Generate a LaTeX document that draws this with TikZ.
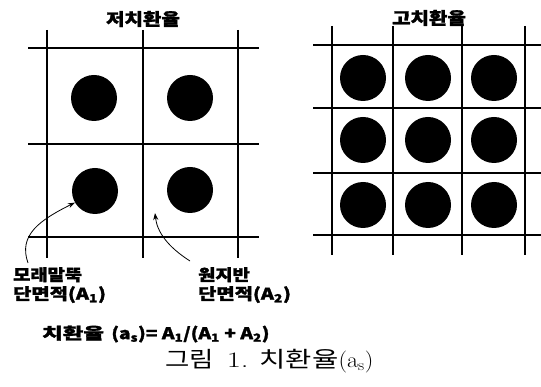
\documentclass[tikz,border=0pt]{standalone}
\usepackage{fontspec}
\usepackage{graphicx}
\usepackage{tikz}
\usetikzlibrary{arrows.meta,positioning}
\newfontfamily\kr{Noto Sans CJK KR}[BoldFeatures={FakeBold=1.5}]
\newcommand{\hwide}[2][1.2]{\scalebox{#1}[1]{#2}}

\begin{document}
\begin{tikzpicture}[x=1pt,y=-1pt,>={Stealth[length=7pt,width=5pt]},
    gridline/.style={line width=1.3pt},
    pile/.style={circle,fill=black,inner sep=0pt,minimum size=46pt},
    heading/.style={font=\kr\bfseries\fontsize{17}{19}\selectfont},
    areatext/.style={font=\kr\bfseries\fontsize{16}{19}\selectfont,
      align=left,inner sep=0pt,anchor=north west},
    formula/.style={font=\kr\bfseries\fontsize{16}{18}\selectfont,
      anchor=west,inner sep=0pt},
    caption/.style={font=\fontsize{22}{24}\selectfont,anchor=west,
      inner sep=0pt}]
    \useasboundingbox (0,0) rectangle (541,387);

    % low replacement ratio
    \node[heading] (lowtitle) at (143,19) {\hwide[1.18]{저치환율}};
    \foreach \x in {47,143,238} \draw[gridline] (\x,30) -- (\x,258);
    \foreach \y in {48,144,237} \draw[gridline] (28,\y) -- (259,\y);
    \node[pile] (sand1) at (94,98) {};
    \node[pile] (sand2) at (190,98) {};
    \node[pile] (sand3) at (95,191) {};
    \node[pile] (sand4) at (190,190) {};

    % high replacement ratio
    \node[heading] (hightitle) at (429,18) {\hwide[1.18]{고치환율}};
    \foreach \x in {332,393,462,525} \draw[gridline] (\x,26) -- (\x,255);
    \foreach \y in {45,108,173,235} \draw[gridline] (313,\y) -- (541,\y);
    \foreach \x in {363,428,494}
      \foreach \y in {78,140,205} \node[pile] at (\x,\y) {};

    % area labels
    \node[areatext] (sandlbl) at (13,267)
      {\hwide[1.17]{모래말뚝}\\\hwide[1.24]{단면적(A\textsubscript{1})}};
    \node[areatext] (soillbl) at (198,267)
      {\hwide[1.17]{원지반}\\\hwide[1.24]{단면적(A\textsubscript{2})}};
    \coordinate (soilpt) at (155,213);
    \draw[->,thick] ([xshift=15pt,yshift=4pt]sandlbl.north west)
      .. controls (18,235) and (40,220) .. (sand3.210);
    \draw[->,thick] ([xshift=-8pt,yshift=6pt]soillbl.north west)
      .. controls (168,247) and (157,232) .. (soilpt);

    \node[formula] (ratio) at (42,334)
      {\hwide[1.4]{치환율}\ \ \hwide[1.2]{(a\textsubscript{s})= A\textsubscript{1}/(A\textsubscript{1} + A\textsubscript{2})}};
    \node[caption] (cap) at (165,361)
      {\hwide[1.2]{\kr 그림}\hspace{13pt}\hwide[1.4]{1.}\hspace{11pt}%
       \hwide[1.3]{\kr 치환율}\hwide[1.1]{(a\textsubscript{s})}};
  \end{tikzpicture}
\end{document}
